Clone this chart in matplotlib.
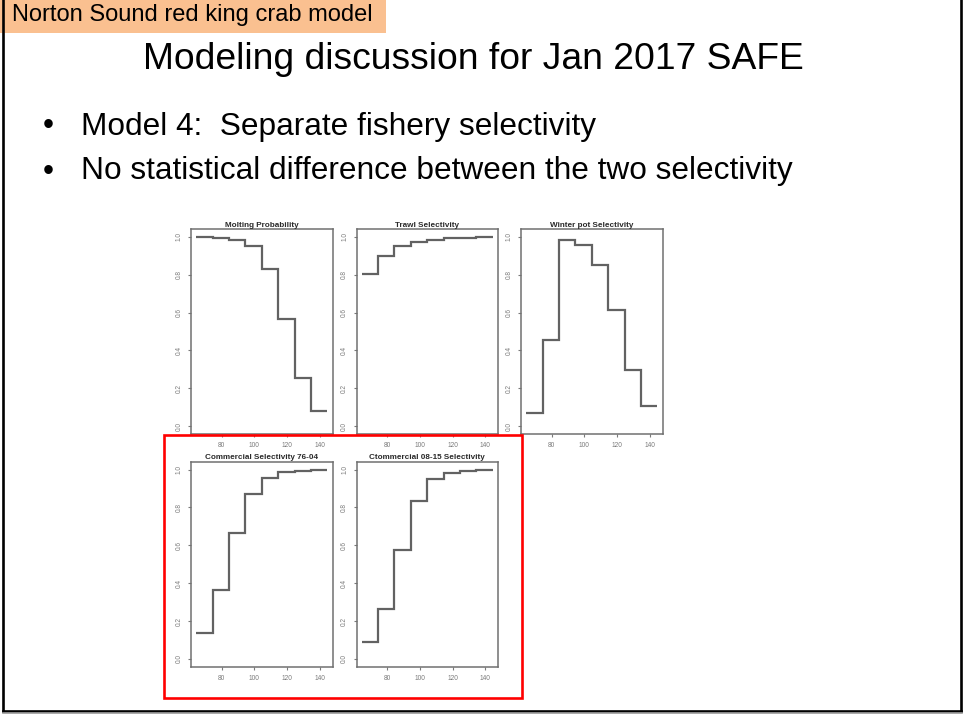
import matplotlib
matplotlib.use('Agg')
import matplotlib.pyplot as plt
from matplotlib.patches import Rectangle
from matplotlib.lines import Line2D

plt.rcParams['font.family'] = ['Liberation Sans', 'DejaVu Sans']

# slide size in pixels
W, H = 965, 719

# carapace length bins (mm)
size_edges = [64.5, 74.5, 84.5, 94.5, 104.5, 114.5, 124.5, 134.5, 144.5]

# model 4 estimates by length bin
molting_prob = [1.0, 0.996, 0.986, 0.951, 0.829, 0.567, 0.255, 0.083]
trawl_sel = [0.803, 0.900, 0.954, 0.975, 0.986, 0.993, 0.996, 1.0]
winter_pot_sel = [0.072, 0.454, 0.986, 0.956, 0.850, 0.613, 0.299, 0.106]
comm_76_04_sel = [0.139, 0.366, 0.667, 0.873, 0.958, 0.986, 0.993, 0.998]
comm_08_15_sel = [0.087, 0.264, 0.577, 0.833, 0.951, 0.984, 0.995, 0.998]

panel_titles = ['Molting Probability', 'Trawl Selectivity', 'Winter pot Selectivity',
                'Commercial Selectivity 76-04', 'Ctommercial 08-15 Selectivity']
panel_values = [molting_prob, trawl_sel, winter_pot_sel, comm_76_04_sel, comm_08_15_sel]

x_ticks = [80, 100, 120, 140]
y_ticks = [0.0, 0.2, 0.4, 0.6, 0.8, 1.0]

slide_title = 'Modeling discussion for Jan 2017 SAFE'
bullets = ['Model 4:  Separate fishery selectivity',
           'No statistical difference between the two selectivity']
header = 'Norton Sound red king crab model'


def fx(x):
    return x / W


def fy(y):
    return 1 - y / H


def px_axes(fig, left, top, right, bottom):
    return fig.add_axes([fx(left), fy(bottom), (right - left) / W, (bottom - top) / H])


fig = plt.figure(figsize=(W / 100, H / 100), dpi=100)
fig.patch.set_facecolor('white')

# header tag
fig.patches.append(Rectangle((0, fy(33)), fx(386), 33 / H, transform=fig.transFigure,
                             facecolor='#fac090', edgecolor='none', zorder=2))
fig.text(fx(12.5), fy(21.5), header, fontsize=17.0, va='baseline', ha='left', zorder=3)

# slide title and bullets
fig.text(fx(473), fy(69), slide_title, fontsize=26.8, va='baseline', ha='center')
for i, b in enumerate(bullets):
    yb = [134.5, 179.5][i]
    fig.text(fx(43), fy(yb), '\u2022', fontsize=22.5, va='baseline', ha='left')
    fig.text(fx(81), fy(yb), b, fontsize=22.8, va='baseline', ha='left')

# 3 x 2 panel layout, last cell empty
col_left = [191, 356.5, 521]
row_top = [229.3, 462]
pw, ph = 141.5, 204.5

for k, (title, vals) in enumerate(zip(panel_titles, panel_values)):
    r, c = divmod(k, 3)
    ax = px_axes(fig, col_left[c], row_top[r], col_left[c] + pw, row_top[r] + ph)
    ax.stairs(vals, size_edges, baseline=None, color='#626262', linewidth=1.6)
    ax.set_xlim(61.3, 147.7)
    ax.set_ylim(-0.04, 1.04)
    ax.set_xticks(x_ticks)
    ax.set_yticks(y_ticks)
    ax.set_yticklabels(['%.1f' % v for v in y_ticks], rotation=90, va='center')
    ax.tick_params(labelsize=4.7, colors='#7a7a7a', length=2.5, width=0.8, pad=3.5)
    for s in ax.spines.values():
        s.set_color('#707070')
        s.set_linewidth(1.1)
    ax.set_title(title, fontsize=5.9, fontweight='bold', color='#2a2a2a', pad=2)

# highlight around the two commercial selectivity panels
fig.patches.append(Rectangle((fx(163.5), fy(698)), (522 - 163.5) / W, (698 - 434.5) / H,
                             transform=fig.transFigure, facecolor='none',
                             edgecolor='#ff0000', linewidth=1.9, zorder=5))

# slide frame
for xs, ys, col, lw in [([2.5, 2.5], [0, 711], 'black', 1.9),
                        ([2.5, 961.2], [711, 711], 'black', 1.9),
                        ([961.2, 961.2], [0, 711], 'black', 1.9),
                        ([3, 962], [713.3, 713.3], '#9a9a9a', 1.2)]:
    fig.lines.append(Line2D([fx(v) for v in xs], [fy(v) for v in ys],
                            transform=fig.transFigure, color=col, linewidth=lw, zorder=6))

fig.savefig('out.png', dpi=100)
